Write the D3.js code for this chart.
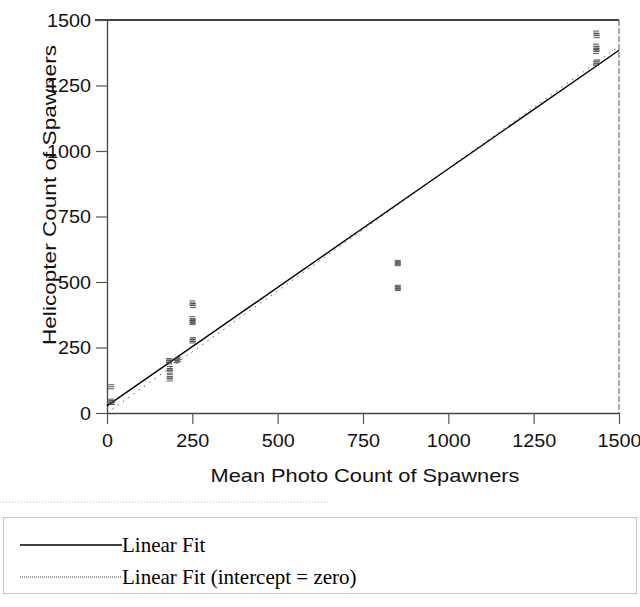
<!DOCTYPE html>
<html><head><meta charset="utf-8">
<script src="https://cdn.jsdelivr.net/npm/d3@7"></script>
<style>body{margin:0;background:#fff}svg{display:block}</style>
</head><body>
<script>
// Data
const photoCounts = [12, 12, 14, 182, 182, 184, 184, 184, 184, 204, 208, 250, 252, 250, 252, 250, 252, 250, 852, 852, 852, 852, 1433, 1435, 1433, 1435, 1433, 1435, 1433];
const heliCounts  = [100, 45, 40, 200, 195, 170, 160, 140, 130, 200, 205, 420, 410, 360, 350, 345, 280, 275, 575, 570, 480, 475, 1450, 1440, 1400, 1390, 1380, 1340, 1335];
const xTicks = [0, 250, 500, 750, 1000, 1250, 1500];
const yTicks = [0, 250, 500, 750, 1000, 1250, 1500];
const fitFull = {intercept: 27, slope: 0.905};
const fitZero = {intercept: 0, slope: 0.933};
const legendLabels = ["Linear Fit", "Linear Fit (intercept = zero)"];

const W = 640, H = 607;
const svg = d3.select("body").append("svg").attr("width", W).attr("height", H);
const x = d3.scaleLinear().domain([0, 1500]).range([107, 619]);
const y = d3.scaleLinear().domain([0, 1500]).range([413, 20]);

// frame top/right
svg.append("line").attr("x1", 95).attr("x2", 619).attr("y1", y(1500)).attr("y2", y(1500))
  .attr("stroke", "#000").attr("stroke-width", 1.6);
svg.append("line").attr("x1", 619).attr("x2", 619).attr("y1", y(1500)).attr("y2", y(0))
  .attr("stroke", "#555").attr("stroke-width", 1).attr("stroke-dasharray", "6,2");

// axes
const fmt = d3.format("d");
const xAxis = svg.append("g").attr("transform", `translate(0,${y(0)})`)
  .call(d3.axisBottom(x).tickValues(xTicks).tickFormat(fmt).tickSize(11).tickPadding(5).tickSizeOuter(0));
const yAxis = svg.append("g").attr("transform", `translate(${x(0)},0)`)
  .call(d3.axisLeft(y).tickValues(yTicks).tickFormat(fmt).tickSize(11).tickPadding(5).tickSizeOuter(0));
[xAxis, yAxis].forEach(g => {
  g.select(".domain").attr("stroke", "#444").attr("stroke-width", 1.3);
  g.selectAll(".tick line").attr("stroke", "#555").attr("stroke-width", 1.2);
  g.selectAll(".tick text").attr("font-family", "Liberation Sans, Arial, sans-serif")
    .attr("font-size", 19).attr("fill", "#111")
    .each(function(){ const t = d3.select(this); t.attr("textLength", t.text().length * 11).attr("lengthAdjust", "spacingAndGlyphs"); });
});
xAxis.selectAll(".tick text").attr("dy", "0.95em");

// titles
svg.append("text").attr("x", 365).attr("y", 482).attr("text-anchor", "middle")
  .attr("font-family", "Liberation Sans, Arial, sans-serif").attr("font-size", 19).attr("fill", "#111")
  .attr("textLength", 309).attr("lengthAdjust", "spacingAndGlyphs")
  .text("Mean Photo Count of Spawners");
svg.append("text").attr("transform", "translate(56,195) rotate(-90)").attr("text-anchor", "middle")
  .attr("font-family", "Liberation Sans, Arial, sans-serif").attr("font-size", 19).attr("fill", "#111")
  .attr("textLength", 300).attr("lengthAdjust", "spacingAndGlyphs")
  .text("Helicopter Count of Spawners");

// fit lines
const fitLine = f => d3.line()([[x(0), y(f.intercept)], [x(1500), y(f.intercept + f.slope * 1500)]]);
svg.append("path").attr("d", fitLine(fitZero)).attr("fill", "none")
  .attr("stroke", "#555").attr("stroke-width", 1).attr("stroke-dasharray", "1.5,5");
svg.append("path").attr("d", fitLine(fitFull)).attr("fill", "none")
  .attr("stroke", "#000").attr("stroke-width", 1.4);

// points as small "≡" markers
const pts = photoCounts.map((v, i) => [v, heliCounts[i]]);
const mk = svg.append("g");
pts.forEach(([px, py]) => {
  const cx = x(px), cy = y(py);
  mk.append("path")
    .attr("d", `M${cx-3},${cy-2}h6M${cx-3},${cy}h6M${cx-3},${cy+2}h6`)
    .attr("stroke", "#444").attr("stroke-width", 0.9).attr("fill", "none");
});

// faint artifacts line
svg.append("line").attr("x1", 0).attr("x2", 330).attr("y1", 502).attr("y2", 502)
  .attr("stroke", "#bbb").attr("stroke-width", 1).attr("stroke-dasharray", "1,2");

// legend
svg.append("rect").attr("x", 3.5).attr("y", 517.5).attr("width", 633).attr("height", 76)
  .attr("fill", "none").attr("stroke", "#888").attr("stroke-width", 1).attr("stroke-dasharray", "1,1");
const legY = [545, 577];
svg.append("line").attr("x1", 20).attr("x2", 122).attr("y1", legY[0]).attr("y2", legY[0])
  .attr("stroke", "#000").attr("stroke-width", 1.4);
svg.append("line").attr("x1", 20).attr("x2", 122).attr("y1", legY[1]).attr("y2", legY[1])
  .attr("stroke", "#333").attr("stroke-width", 1).attr("stroke-dasharray", "1,1");
legendLabels.forEach((t, i) => {
  svg.append("text").attr("x", 122).attr("y", legY[i] + 7)
    .attr("font-family", "Liberation Serif, Times New Roman, serif").attr("font-size", 21).attr("fill", "#000")
    .text(t);
});
</script>
</body></html>
